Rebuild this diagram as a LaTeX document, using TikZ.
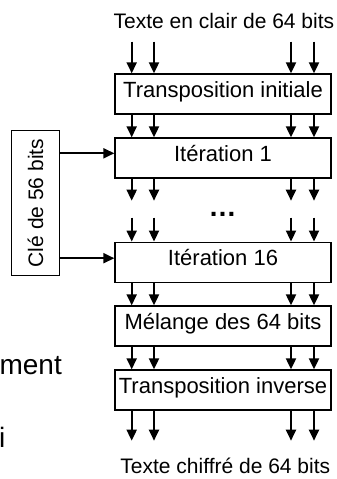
\documentclass[tikz,border=0pt]{standalone}
\usepackage{fontspec}
\setmainfont{Liberation Sans}
\usetikzlibrary{positioning}
\usetikzlibrary{arrows.meta}

\tikzset{
  stage/.style={draw, line width=1.3pt, minimum width=216pt, minimum height=40pt,
    inner sep=0pt, text height=0.716em, text depth=0pt, font=\fontsize{22}{26}\selectfont},
  flow/.style={line width=2pt, -{Triangle[width=10pt,length=11pt]}},
  caption/.style={anchor=base, inner sep=0pt, font=\fontsize{21}{25}\selectfont},
  cut/.style={anchor=base east, inner sep=0pt, font=\fontsize{28}{32}\selectfont},
}

\begin{document}
\begin{tikzpicture}[x=1pt,y=-1pt]
\useasboundingbox (0,0) rectangle (337,479);

% the five stages
\node [stage] (ip) at (223,94) {Transposition initiale};
\node [stage] (it1) at (223,158) {Itération 1};
\node [stage] (it16) at (223,262.2) {Itération 16};
\node [stage] (mix) at (223,326) {Mélange des 64 bits};
\node [stage] (ipinv) at (223,390) {Transposition inverse};

% key
\node [draw, line width=1.3pt, minimum width=48.3pt, minimum height=144.5pt, inner sep=0pt,
  font=\fontsize{21}{25}\selectfont] (key) at (35.5,203) {\rotatebox{90}{Clé de 56 bits}};

% texts
\node [caption] (plain) at (223.9,28) {Texte en clair de 64 bits};
\node [caption] (cipher) at (225.3,473) {Texte chiffré de 64 bits};
\node [anchor=base, inner sep=0pt, font=\fontsize{28}{30}\bfseries] (dots) at (222.5,216.7) {…};
\node [cut] (ment) at (62,374.5) {ment};
\node [cut] (ii) at (5.5,447) {i};

\coordinate (in) at (223,41.7);
\coordinate (dotsup) at (223,200.7);
\coordinate (dotsdown) at (223,217.7);
\coordinate (out) at (223,440.7);

% bit lines
\foreach \dx in {-91.3,-69,68,91} {
  \draw [flow] ([xshift=\dx pt]in) -- ([xshift=\dx pt]ip.north);
  \draw [flow] ([xshift=\dx pt]ip.south) -- ([xshift=\dx pt]it1.north);
  \draw [flow] ([xshift=\dx pt]it1.south) -- ([xshift=\dx pt]dotsup);
  \draw [flow] ([xshift=\dx pt]dotsdown) -- ([xshift=\dx pt]it16.north);
  \draw [flow] ([xshift=\dx pt]it16.south) -- ([xshift=\dx pt]mix.north);
  \draw [flow] ([xshift=\dx pt]mix.south) -- ([xshift=\dx pt]ipinv.north);
  \draw [flow] ([xshift=\dx pt]ipinv.south) -- ([xshift=\dx pt]out);
}

% key to rounds
\draw [flow] ([yshift=4.7pt]it1.west -| key.east) -- ([yshift=4.7pt]it1.west);
\draw [flow] ([yshift=4pt]it16.west -| key.east) -- ([yshift=4pt]it16.west);

\end{tikzpicture}
\end{document}
